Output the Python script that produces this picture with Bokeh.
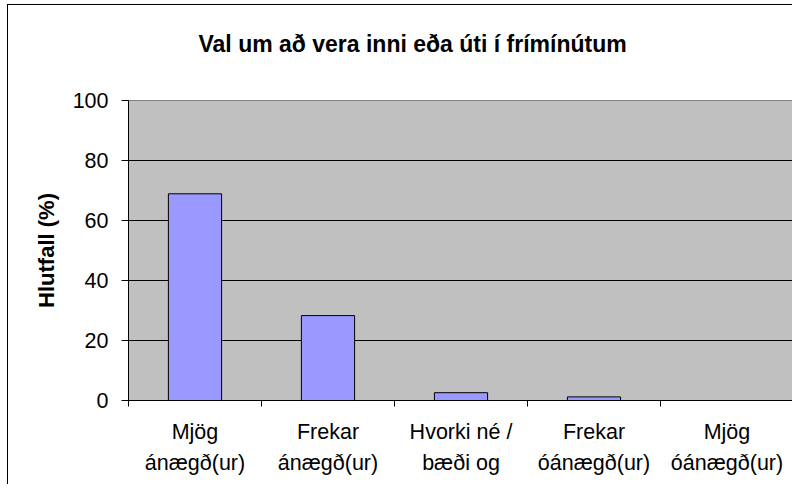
from bokeh.plotting import figure
from bokeh.models import Range1d, FixedTicker, ColumnDataSource
from bokeh.embed import file_html
from bokeh.resources import INLINE

# ---- data ----
categories = ["Mjög\nánægð(ur)", "Frekar\nánægð(ur)", "Hvorki né /\nbæði og",
              "Frekar\nóánægð(ur)", "Mjög\nóánægð(ur)"]
values = [68.9, 28.3, 2.6, 1.2, 0.0]
y_ticks = [0, 20, 40, 60, 80, 100]
title_text = "Val um að vera inni eða úti í frímínútum"
y_label = "Hlutfall (%)"

FONT = "Liberation Sans"

n = len(categories)
centers = [i + 0.5 for i in range(n)]
edges = list(range(n + 1))

src = ColumnDataSource(dict(x=centers, val=values))

p = figure(width=785, height=480, output_backend="svg", toolbar_location=None,
           x_range=Range1d(0, n), y_range=Range1d(0, 100),
           min_border_left=120, min_border_right=0, min_border_top=95,
           min_border_bottom=85)
p.margin = (4, 0, 0, 7)
p.styles = {"border-left": "1px solid black", "border-top": "1px solid black"}
p.background_fill_color = "#C0C0C0"
p.border_fill_color = "white"
p.outline_line_color = "#808080"
p.outline_line_width = 1

# an empty second line lifts the title towards the top of the chart area
p.title.text = title_text + "\n\u00a0"
p.title.align = "left"
p.title.offset = 70
p.title.standoff = 35
p.title.text_font = FONT
p.title.text_font_style = "bold"
p.title.text_font_size = "23px"
p.title.text_color = "black"

p.vbar(x="x", top="val", width=0.4, source=src, fill_color="#9999FF",
       line_color="black", line_width=1)

# grid
p.xgrid.grid_line_color = None
p.ygrid.grid_line_color = "black"
p.ygrid.grid_line_width = 1
p.ygrid.ticker = FixedTicker(ticks=y_ticks[1:-1])

# y axis
ya = p.yaxis[0]
ya.ticker = FixedTicker(ticks=y_ticks)
ya.axis_line_color = "black"
ya.major_tick_line_color = "black"
ya.major_tick_out = 7
ya.major_tick_in = 0
ya.minor_tick_line_color = None
ya.major_label_text_font = FONT
ya.major_label_text_font_size = "21.5px"
ya.major_label_text_color = "black"
ya.major_label_standoff = 13
ya.axis_label = y_label
ya.axis_label_text_font = FONT
ya.axis_label_text_font_style = "bold"
ya.axis_label_text_font_size = "22px"
ya.axis_label_text_color = "black"
ya.axis_label_standoff = 11

# x axis: labels at centres, tick marks at category edges
xa = p.xaxis[0]
xa.ticker = FixedTicker(ticks=centers, minor_ticks=edges)
xa.major_label_overrides = {c: lab for c, lab in zip(centers, categories)}
xa.axis_line_color = "black"
xa.major_tick_line_color = None
xa.minor_tick_line_color = "black"
xa.minor_tick_out = 6
xa.minor_tick_in = 0
xa.major_label_text_font = FONT
xa.major_label_text_font_size = "21.5px"
xa.major_label_text_line_height = 1.3
xa.major_label_text_color = "black"
xa.major_label_standoff = 13

open("out.html", "w").write(file_html(p, INLINE))
